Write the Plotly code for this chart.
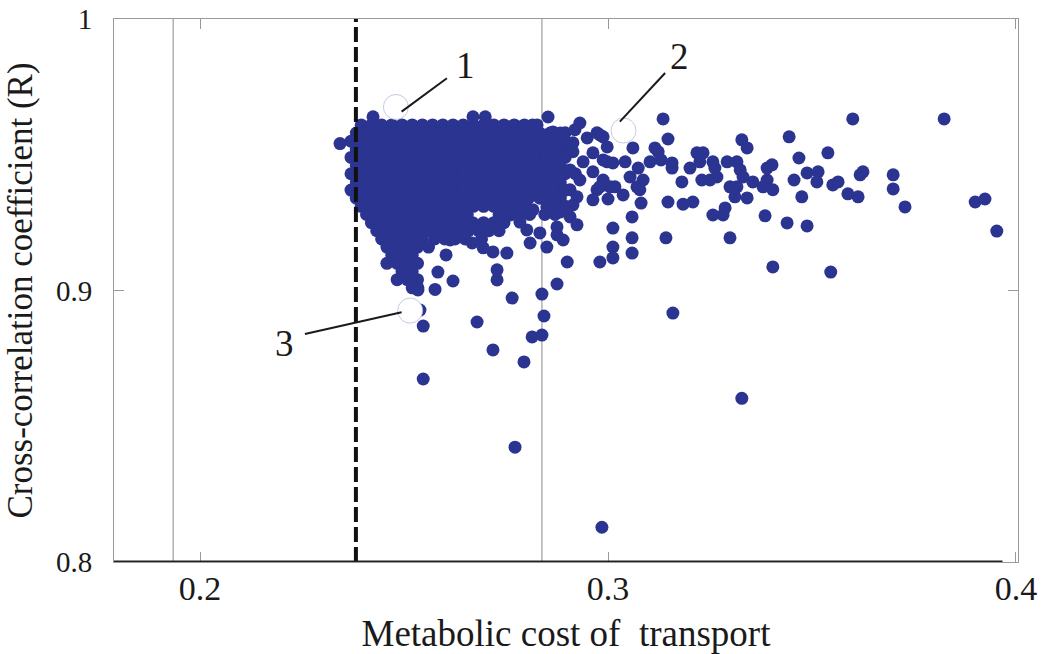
import plotly.graph_objects as go

# ---------------- data ----------------
# dense core of the cloud: rows of solutions, y value -> x values
cluster_rows = {
    0.9640: [0.2424, 0.2669, 0.2699],
    0.9610: [0.2395, 0.2420, 0.2445, 0.2470, 0.2495, 0.2520, 0.2545, 0.2570, 0.2595,
             0.2620, 0.2645, 0.2670, 0.2695, 0.2720, 0.2745, 0.2770, 0.2795, 0.2815],
    0.9580: [0.2383, 0.2408, 0.2433, 0.2458, 0.2483, 0.2508, 0.2533, 0.2558, 0.2583,
             0.2608, 0.2633, 0.2658, 0.2683, 0.2708, 0.2733, 0.2758, 0.2783, 0.2808,
             0.2833, 0.2858, 0.2883],
    0.9550: [0.2370, 0.2395, 0.2420, 0.2445, 0.2470, 0.2495, 0.2520, 0.2545, 0.2570, 0.2595,
             0.2620, 0.2645, 0.2670, 0.2695, 0.2720, 0.2745, 0.2770, 0.2795, 0.2820,
             0.2870, 0.2895],
    0.9520: [0.2383, 0.2408, 0.2433, 0.2458, 0.2483, 0.2508, 0.2533, 0.2558, 0.2583,
             0.2608, 0.2633, 0.2658, 0.2683, 0.2708, 0.2733, 0.2758, 0.2783, 0.2808,
             0.2833, 0.2858, 0.2883, 0.2905],
    0.9490: [0.2370, 0.2395, 0.2420, 0.2445, 0.2470, 0.2495, 0.2520, 0.2545, 0.2570, 0.2595,
             0.2620, 0.2645, 0.2670, 0.2695, 0.2720, 0.2745, 0.2770, 0.2795, 0.2820,
             0.2845, 0.2870, 0.2895],
    0.9460: [0.2383, 0.2408, 0.2433, 0.2458, 0.2483, 0.2508, 0.2533, 0.2558, 0.2583,
             0.2608, 0.2633, 0.2658, 0.2683, 0.2708, 0.2733, 0.2758, 0.2783, 0.2808,
             0.2833, 0.2858, 0.2883],
    0.9430: [0.2370, 0.2395, 0.2420, 0.2445, 0.2470, 0.2495, 0.2520, 0.2545, 0.2570, 0.2595,
             0.2620, 0.2645, 0.2670, 0.2695, 0.2720, 0.2745, 0.2770, 0.2795, 0.2820,
             0.2845, 0.2870, 0.2895, 0.2920],
    0.9400: [0.2383, 0.2408, 0.2433, 0.2458, 0.2483, 0.2508, 0.2533, 0.2558, 0.2583,
             0.2608, 0.2633, 0.2658, 0.2683, 0.2708, 0.2733, 0.2758, 0.2783, 0.2808,
             0.2833, 0.2858, 0.2883],
    0.9370: [0.2370, 0.2395, 0.2420, 0.2445, 0.2470, 0.2495, 0.2520, 0.2545, 0.2570, 0.2595,
             0.2620, 0.2645, 0.2670, 0.2695, 0.2720, 0.2745, 0.2770, 0.2795, 0.2815,
             0.2845, 0.2870, 0.2895],
    0.9340: [0.2383, 0.2408, 0.2433, 0.2458, 0.2483, 0.2508, 0.2533, 0.2558, 0.2583,
             0.2608, 0.2633, 0.2658, 0.2683, 0.2708, 0.2733, 0.2758, 0.2783, 0.2805,
             0.2833, 0.2858, 0.2883],
    0.9310: [0.2395, 0.2420, 0.2445, 0.2470, 0.2495, 0.2520, 0.2545, 0.2570, 0.2595,
             0.2620, 0.2645, 0.2670, 0.2695, 0.2720, 0.2745, 0.2770, 0.2795, 0.2870, 0.2895],
    0.9280: [0.2408, 0.2433, 0.2458, 0.2483, 0.2508, 0.2533, 0.2558, 0.2583, 0.2608,
             0.2633, 0.2655, 0.2733, 0.2758, 0.2783, 0.2808, 0.2845, 0.2870],
    0.9250: [0.2420, 0.2445, 0.2470, 0.2495, 0.2520, 0.2545, 0.2570, 0.2595, 0.2620,
             0.2645, 0.2668, 0.2695, 0.2720, 0.2745],
    0.9220: [0.2433, 0.2458, 0.2483, 0.2508, 0.2533, 0.2558, 0.2583, 0.2608, 0.2633,
             0.2658, 0.2683, 0.2708, 0.2733],
    0.9190: [0.2445, 0.2470, 0.2495, 0.2520, 0.2545, 0.2575, 0.2600, 0.2625, 0.2650, 0.2690],
    0.9160: [0.2458, 0.2483, 0.2508, 0.2533, 0.2560],
    0.9130: [0.2470, 0.2495, 0.2520],
    0.9100: [0.2458, 0.2483, 0.2508, 0.2533],
    0.9070: [0.2495, 0.2520],
    0.9040: [0.2483, 0.2508, 0.2533],
    0.9010: [0.2520, 0.2534],
}

# individual solutions outside the dense core
outlier_x = [
    0.2853, 0.2931, 0.2826, 0.2865, 0.2895, 0.2919, 0.2850, 0.2875, 0.2914, 0.2949,
    0.2973, 0.2988, 0.2850, 0.2882, 0.2914, 0.2939, 0.2963, 0.2998, 0.2858, 0.2882,
    0.2907, 0.2931, 0.2963, 0.2988, 0.2833, 0.2865, 0.2907, 0.2973, 0.3005, 0.2850,
    0.2816, 0.2914, 0.2924, 0.2963, 0.3000, 0.2882, 0.2907, 0.2875, 0.2924, 0.2801,
    0.2833, 0.2809, 0.2850, 0.2875, 0.2890, 0.2784, 0.2760,
    0.2980, 0.2998, 0.2988, 0.3012, 0.3042, 0.3074, 0.3086, 0.3054, 0.2980, 0.3017,
    0.3071, 0.3078, 0.3037, 0.3081, 0.3059, 0.3012, 0.3059, 0.3012, 0.3059, 0.3012,
    0.2980, 0.3142, 0.3147, 0.3184, 0.3208, 0.3135, 0.3147, 0.3061, 0.3115, 0.3123,
    0.3103, 0.3130, 0.3157, 0.3157, 0.3181, 0.3201, 0.3218, 0.3233, 0.3225, 0.3257,
    0.3230, 0.3250, 0.3267, 0.3262, 0.3292, 0.3316, 0.3328, 0.3341, 0.3324, 0.3331,
    0.3299, 0.3316, 0.3311, 0.3341, 0.3355, 0.3380, 0.3390, 0.3404, 0.3390, 0.3402,
    0.3257, 0.3282, 0.3287, 0.3299, 0.3385, 0.3439, 0.3488, 0.3444, 0.3468, 0.3456,
    0.3475, 0.3488, 0.3515, 0.3512, 0.3539, 0.3551, 0.3564, 0.3588, 0.3613, 0.3618,
    0.3625, 0.3600, 0.3699, 0.3699, 0.3728, 0.3824, 0.3900, 0.3924, 0.3953, 0.3404,
    0.3546, 0.3159,
    0.2576, 0.2620, 0.2583, 0.2603, 0.2728, 0.2728, 0.2765, 0.2838, 0.2875, 0.2843,
    0.2679, 0.2838, 0.2814, 0.2718, 0.2794, 0.2547, 0.2547, 0.2772, 0.2985, 0.3328,
    0.2900, 0.2752, 0.2718, 0.2694, 0.2667, 0.2613, 0.2539, 0.2534,
]
outlier_y = [
    0.9639, 0.9617, 0.9610, 0.9584, 0.9581, 0.9592, 0.9547, 0.9529, 0.9544, 0.9562,
    0.9581, 0.9566, 0.9492, 0.9481, 0.9511, 0.9474, 0.9507, 0.9474, 0.9444, 0.9418,
    0.9444, 0.9407, 0.9437, 0.9407, 0.9371, 0.9382, 0.9371, 0.9371, 0.9382, 0.9308,
    0.9297, 0.9315, 0.9345, 0.9334, 0.9337, 0.9289, 0.9271, 0.9234, 0.9242, 0.9223,
    0.9212, 0.9175, 0.9160, 0.9205, 0.9186, 0.9252, 0.9278,
    0.9573, 0.9529, 0.9481, 0.9470, 0.9474, 0.9451, 0.9407, 0.9418, 0.9382, 0.9382,
    0.9382, 0.9371, 0.9352, 0.9322, 0.9271, 0.9230, 0.9194, 0.9160, 0.9138, 0.9120,
    0.9105, 0.9194, 0.9326, 0.9318, 0.9326, 0.9632, 0.9558, 0.9525, 0.9525, 0.9511,
    0.9474, 0.9481, 0.9470, 0.9451, 0.9400, 0.9451, 0.9507, 0.9507, 0.9474, 0.9474,
    0.9407, 0.9407, 0.9418, 0.9451, 0.9474, 0.9474, 0.9555, 0.9525, 0.9444, 0.9418,
    0.9382, 0.9382, 0.9345, 0.9341, 0.9400, 0.9382, 0.9407, 0.9371, 0.9451, 0.9463,
    0.9278, 0.9278, 0.9304, 0.9194, 0.9275, 0.9249, 0.9238, 0.9566, 0.9488, 0.9407,
    0.9345, 0.9433, 0.9437, 0.9400, 0.9507, 0.9389, 0.9400, 0.9356, 0.9345, 0.9426,
    0.9437, 0.9632, 0.9426, 0.9374, 0.9308, 0.9632, 0.9326, 0.9337, 0.9219, 0.9087,
    0.9068, 0.8917,
    0.9004, 0.9035, 0.9068, 0.9131, 0.9039, 0.9076, 0.8972, 0.8987, 0.9024, 0.8906,
    0.8884, 0.8836, 0.8829, 0.8781, 0.8737, 0.8869, 0.8674, 0.8423, 0.8128, 0.8603,
    0.9105, 0.9138, 0.9142, 0.9157, 0.9175, 0.9186, 0.8928, 0.9002,
]
extra_left_x = [0.2343]
extra_left_y = [0.9541]

# highlighted solutions 1, 2, 3
hl_labels = ["1", "2", "3"]
hl_x = [0.2480, 0.3038, 0.2515]
hl_y = [0.9676, 0.9589, 0.8926]
leader_x0 = [0.2494, 0.3029, 0.2494]
leader_y0 = [0.9659, 0.9622, 0.8920]
leader_x1 = [0.2605, 0.3140, 0.2257]
leader_y1 = [0.9782, 0.9801, 0.8840]
label_x = [0.2650, 0.3174, 0.2208]
label_y = [0.9828, 0.9861, 0.8806]

threshold_x = 0.2382
guide_x = [0.1934, 0.2838]

x_ticks = [0.2, 0.3, 0.4]
x_ticktext = ["0.2", "0.3", "0.4"]
y_ticks = [0.8, 0.9, 1.0]
y_ticktext = ["0.8", "0.9", "1"]
x_range = [0.1789, 0.4005]
y_range = [0.8, 1.0]

# ---------------- figure ----------------
all_x, all_y = [], []
for yv, xs in cluster_rows.items():
    all_x += xs
    all_y += [yv] * len(xs)
all_x += outlier_x + extra_left_x
all_y += outlier_y + extra_left_y

BLUE = "#2b3490"
fig = go.Figure()
fig.add_trace(go.Scatter(
    x=all_x, y=all_y, mode="markers",
    marker=dict(size=13, color=BLUE, line=dict(width=0)),
    hoverinfo="skip"))
fig.add_trace(go.Scatter(
    x=hl_x, y=hl_y, mode="markers",
    marker=dict(size=25, color="white", line=dict(width=1, color="rgba(170,180,215,0.7)")),
    hoverinfo="skip"))

shapes = []
for gx in guide_x:
    shapes.append(dict(type="line", xref="x", yref="y", x0=gx, x1=gx, y0=y_range[0], y1=y_range[1],
                       line=dict(color="#8a8a8a", width=1), layer="below"))
shapes.append(dict(type="line", xref="x", yref="y", x0=threshold_x, x1=threshold_x,
                   y0=y_range[0], y1=y_range[1],
                   line=dict(color="#111111", width=4, dash="15px,5px"), layer="above"))
shapes.append(dict(type="line", xref="x", yref="y", x0=x_range[0], x1=0.3967, y0=0.8, y1=0.8,
                   line=dict(color="#222222", width=3), layer="above"))
for i in range(3):
    shapes.append(dict(type="line", xref="x", yref="y", x0=leader_x0[i], y0=leader_y0[i],
                       x1=leader_x1[i], y1=leader_y1[i],
                       line=dict(color="#1a1a1a", width=2), layer="above"))

annotations = []
for i in range(3):
    annotations.append(dict(x=label_x[i], y=label_y[i], xref="x", yref="y", text=hl_labels[i],
                            showarrow=False, font=dict(family="Liberation Serif", size=37, color="#1a1a1a")))

fig.update_layout(
    width=1044, height=654,
    margin=dict(l=114, r=26, t=19, b=92),
    plot_bgcolor="white", paper_bgcolor="white",
    showlegend=False,
    font=dict(family="Liberation Serif", color="#1a1a1a"),
    shapes=shapes, annotations=annotations,
)
fig.update_xaxes(
    range=x_range, tickvals=x_ticks, ticktext=x_ticktext,
    showgrid=False, zeroline=False,
    showline=True, linecolor="#9a9a9a", linewidth=1, mirror="ticks",
    ticks="inside", ticklen=10, tickcolor="#9a9a9a",
    tickfont=dict(size=34, family="Liberation Serif", color="#1a1a1a"),
    ticklabelstandoff=-4,
    title=dict(text="Metabolic cost of  transport", standoff=24,
               font=dict(size=37, family="Liberation Serif", color="#1a1a1a")),
    automargin=False,
)
fig.update_yaxes(
    range=y_range, tickvals=y_ticks, ticktext=y_ticktext,
    showgrid=False, zeroline=False,
    showline=True, linecolor="#9a9a9a", linewidth=1, mirror="ticks",
    ticks="inside", ticklen=10, tickcolor="#9a9a9a",
    tickfont=dict(size=29, family="Liberation Serif", color="#1a1a1a"),
    ticklabelstandoff=15,
    title=dict(text="Cross-correlation coefficient (R)", standoff=12,
               font=dict(size=35, family="Liberation Serif", color="#1a1a1a")),
    automargin=False,
)

fig.write_html("out.html")
